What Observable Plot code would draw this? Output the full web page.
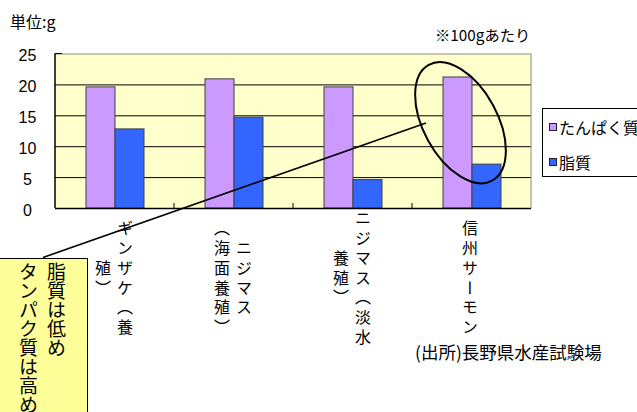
<!DOCTYPE html>
<html><head><meta charset="utf-8">
<script src="https://cdn.jsdelivr.net/npm/d3@7"></script>
<script src="https://cdn.jsdelivr.net/npm/@observablehq/plot@0.6"></script>
<style>
html,body{margin:0;padding:0;background:#fff;overflow:hidden;width:637px;height:412px;}
#wrap{position:relative;width:637px;height:412px;font-family:"Noto Sans CJK JP",sans-serif;color:#000;overflow:hidden;}
#wrap svg{position:absolute;left:0;top:0;overflow:visible;}
.lbl{position:absolute;white-space:nowrap;line-height:20px;}
#legend{position:absolute;left:542px;top:108px;width:110px;height:69px;border:1px solid #000;background:#fff;box-sizing:border-box;}
.sw{position:absolute;left:6px;width:6px;height:6px;border:1px solid #222;}
.lt{position:absolute;left:16px;font-size:16px;line-height:20px;white-space:nowrap;}
#callout{position:absolute;left:-2px;top:258px;width:90px;height:170px;background:#FFFF99;border:1.5px solid #000;box-sizing:border-box;writing-mode:vertical-rl;font-size:19px;line-height:28px;padding-top:3px;padding-right:17px;}
</style></head><body><div id="wrap"></div>
<script>
const categories = ["ギンザケ（養殖）","ニジマス（海面養殖）","ニジマス（淡水養殖）","信州サーモン"];
const categoryLines = [["ギンザケ（養","殖）"],["ニジマス","（海面養殖）"],["ニジマス（淡水","養殖）"],["信州サーモン"]];
const series = ["たんぱく質","脂質"];
const protein = [19.6, 20.9, 19.6, 21.2];
const fat = [12.8, 14.7, 4.6, 7.1];
const colors = ["#CC99FF","#3366FF"];
const yTicks = [0,5,10,15,20,25];
const unitLabel = "単位:g";
const noteLabel = "※100gあたり";
const sourceLabel = "(出所)長野県水産試験場";
const calloutLines = ["脂質は低め","タンパク質は高め"];
const highlightCategory = "信州サーモン";

const rows = categories.flatMap((c,i)=>[
  {category:c, series:series[0], value:protein[i]},
  {category:c, series:series[1], value:fat[i]}
]);
const labelRows = categories.flatMap((c,i)=>categoryLines[i].map((t,j)=>({category:c, text:t, col:j, n:categoryLines[i].length})));
const labelStyle = {fx:"category", text:"text", frameAnchor:"bottom", dy:71, textAnchor:"middle", fontSize:16, fill:"#000", fontFamily:"Noto Sans CJK JP"};

const chart = Plot.plot({
  width: 637, height: 412,
  marginLeft: 54, marginRight: 105, marginTop: 53.5, marginBottom: 204,
  style: {fontFamily: "Noto Sans CJK JP", background: "transparent", overflow: "visible"},
  fx: {domain: categories, padding: 0, axis: null},
  x: {domain: series, paddingInner: 0, paddingOuter: 1, axis: null},
  y: {domain: [0,25], axis: null},
  color: {domain: series, range: colors},
  marks: [
    Plot.frame({fill: "#FFFFCC", stroke: "none", insetLeft: -0.5, insetRight: -0.5}),
    Plot.ruleY([5,10,15,20], {stroke: "#000", strokeWidth: 1}),
    Plot.ruleY([25], {stroke: "#8c8c8c", strokeWidth: 1}),
    Plot.barY(rows, {fx: "category", x: "series", y: "value", fill: "series", stroke: "#404040", strokeWidth: 1}),
    Plot.ruleY([0], {stroke: "#000", strokeWidth: 1.5}),
    Plot.text(yTicks, {fx: () => categories[0], y: d => d, text: d => String(d), frameAnchor: "left", dx: -28, dy: 2, textAnchor: "middle", fontSize: 16, fontFamily: "Liberation Sans, Arial, sans-serif", fill: "#000"}),
    Plot.text(labelRows.filter(d=>d.n===1), {...labelStyle, dx: -2}),
    Plot.text(labelRows.filter(d=>d.n===2 && d.col===0), {...labelStyle, dx: 10}),
    Plot.text(labelRows.filter(d=>d.n===2 && d.col===1), {...labelStyle, dx: -12})
  ]
});

const wrap = document.getElementById("wrap");
wrap.appendChild(chart);

// vertical Japanese labels
const labelSet = new Set(labelRows.map(d=>d.text));
d3.select(chart).selectAll("text").filter(function(){ return labelSet.has(this.textContent); })
  .style("writing-mode","vertical-rl").style("letter-spacing","3.8px");

// plot border & category ticks, ellipse and callout line from scales
const fx = chart.scale("fx"), y = chart.scale("y");
const bw = fx.bandwidth;
const left = fx.apply(categories[0]), right = fx.apply(categories[categories.length-1]) + bw;
const yTop = y.apply(25), yBot = y.apply(0);
const g = d3.select(chart).append("g");
g.append("line").attr("x1",left).attr("x2",left).attr("y1",yTop).attr("y2",yBot).attr("stroke","#000").attr("stroke-width",1.5);
g.append("line").attr("x1",right).attr("x2",right).attr("y1",yTop).attr("y2",yBot).attr("stroke","#8c8c8c");
categories.slice(1).forEach(c=>{
  const xx = fx.apply(c);
  g.append("line").attr("x1",xx).attr("x2",xx).attr("y1",yBot).attr("y2",yBot-5).attr("stroke","#000");
});
g.append("line").attr("x1",left).attr("x2",left+7).attr("y1",yTop).attr("y2",yTop).attr("stroke","#000");
const hx = fx.apply(highlightCategory);
const ecx = hx + bw/2 - 11, ecy = y.apply(13.8);
g.append("ellipse").attr("cx",ecx).attr("cy",ecy).attr("rx",66).attr("ry",37)
  .attr("transform",`rotate(61.3 ${ecx} ${ecy})`).attr("fill","none").attr("stroke","#000").attr("stroke-width",2);
g.append("line").attr("x1",hx+14).attr("y1",y.apply(13.75)).attr("x2",43).attr("y2",257.5)
  .attr("stroke","#000").attr("stroke-width",1.6);

// texts
function addLabel(text, leftPx, centerY, size){
  const d = document.createElement("div");
  d.className = "lbl"; d.textContent = text;
  d.style.left = leftPx + "px"; d.style.top = (centerY - 10) + "px"; d.style.fontSize = size + "px";
  wrap.appendChild(d);
}
addLabel(unitLabel, 10, 21, 16);
addLabel(noteLabel, 435, 34, 15.3);
addLabel(sourceLabel, 415, 352, 17.5);

// legend
const lg = document.createElement("div"); lg.id = "legend";
series.forEach((s,i)=>{
  const cy = [17.5, 53][i];
  const sw = document.createElement("div"); sw.className = "sw";
  sw.style.top = (cy - 4) + "px"; sw.style.background = chart.scale("color").apply(s);
  const t = document.createElement("div"); t.className = "lt"; t.textContent = s;
  t.style.top = (cy - 10) + "px";
  lg.appendChild(sw); lg.appendChild(t);
});
wrap.appendChild(lg);

// callout
const co = document.createElement("div"); co.id = "callout";
co.innerHTML = calloutLines.map(s=>`<div>${s}</div>`).join("");
wrap.appendChild(co);
</script></body></html>
